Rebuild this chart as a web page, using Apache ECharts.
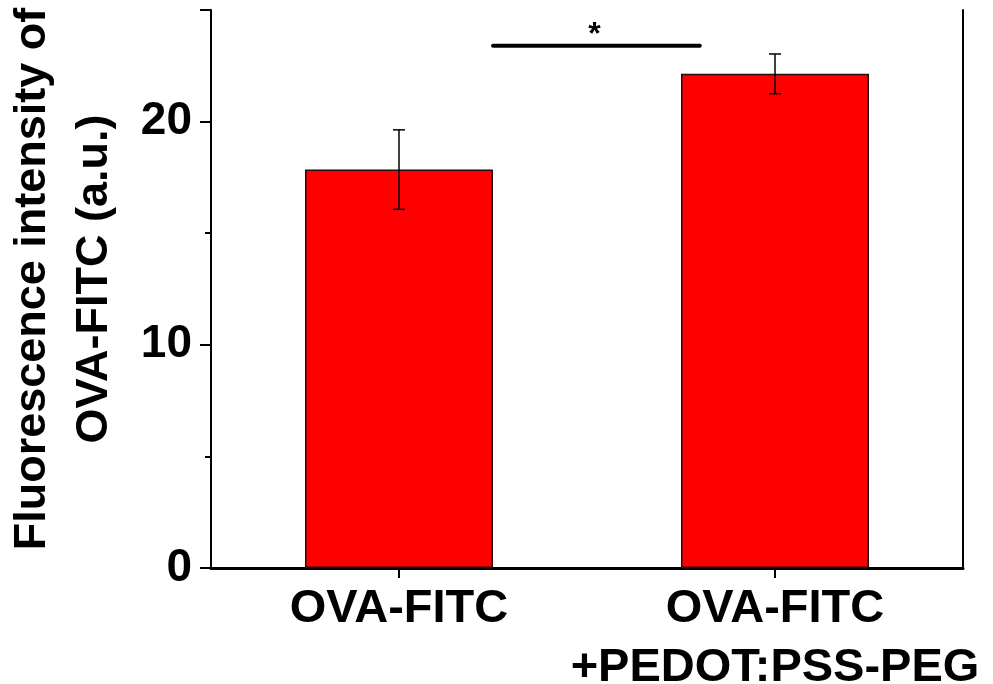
<!DOCTYPE html>
<html>
<head>
<meta charset="utf-8">
<script src="https://cdn.jsdelivr.net/npm/echarts@6/dist/echarts.min.js"></script>
<style>html,body{margin:0;padding:0;background:#fff}#c{width:993px;height:684px}</style>
</head>
<body>
<div id="c"></div>
<script>
var categories = ['OVA-FITC', 'OVA-FITC\n+PEDOT:PSS-PEG'];
var means = [17.85, 22.14];
var errors = [1.78, 0.89];
var yTicks = [0, 10, 20];
var sigLevel = 23.4;
var sigLabel = '*';
var yTitle = 'Fluorescence intensity of\nOVA-FITC (a.u.)';

var FONT = '"Liberation Sans", Arial, Helvetica, sans-serif';
var chart = echarts.init(document.getElementById('c'));
var errData = means.map(function (m, i) { return [i, m - errors[i], m + errors[i]]; });

chart.setOption({
  animation: false,
  grid: { left: 211, right: 30, top: 10, bottom: 116, containLabel: false, outerBoundsMode: 'none' },
  xAxis: [{
    type: 'category', data: categories, position: 'bottom',
    axisLine: { lineStyle: { color: '#000', width: 3 } },
    axisTick: { show: true, alignWithLabel: true, length: 10, lineStyle: { color: '#000', width: 2 } },
    axisLabel: { color: '#000', fontFamily: FONT, fontWeight: 'bold', fontSize: 47, lineHeight: 59, margin: 12, interval: 0 }
  }, {
    type: 'category', data: categories, position: 'top',
    axisLine: { lineStyle: { color: '#000', width: 2 } },
    axisTick: { show: true, alignWithLabel: true, inside: true, length: 2, lineStyle: { color: '#000', width: 1 } },
    axisLabel: { show: false }
  }],
  yAxis: [{
    type: 'value', min: 0, max: 25, interval: 10,
    axisLine: { show: true, lineStyle: { color: '#000', width: 2 } },
    axisTick: { show: true, length: 11, lineStyle: { color: '#000', width: 2 } },
    minorTick: { show: true, splitNumber: 2, length: 6, lineStyle: { color: '#000', width: 2 } },
    splitLine: { show: false },
    axisLabel: { color: '#000', fontFamily: FONT, fontWeight: 'bold', fontSize: 46, margin: 19,
      formatter: function (v) { return yTicks.indexOf(v) >= 0 ? String(v) : ''; } }
  }, {
    type: 'value', min: 0, max: 25, interval: 10, position: 'right',
    axisLine: { show: true, lineStyle: { color: '#000', width: 2 } },
    axisTick: { show: false }, axisLabel: { show: false }, splitLine: { show: false }
  }],
  graphic: [{
    type: 'text', rotation: Math.PI / 2, x: 64, y: 279,
    style: { text: yTitle, fill: '#000', font: 'bold 45px ' + FONT, textAlign: 'center', textVerticalAlign: 'middle', lineHeight: 62 }
  }],
  series: [{
    type: 'bar', data: means, barWidth: '50%',
    itemStyle: { color: '#FF0000', borderColor: '#2a0a0a', borderWidth: 1.5 },
    z: 2
  }, {
    type: 'custom', data: errData, z: 3,
    renderItem: function (params, api) {
      var x = api.value(0);
      var lo = api.coord([x, api.value(1)]);
      var hi = api.coord([x, api.value(2)]);
      var cw = 6;
      var st = { stroke: '#000', lineWidth: 1.5 };
      return { type: 'group', children: [
        { type: 'line', shape: { x1: lo[0], y1: lo[1], x2: hi[0], y2: hi[1] }, style: st },
        { type: 'line', shape: { x1: lo[0] - cw, y1: lo[1], x2: lo[0] + cw, y2: lo[1] }, style: st },
        { type: 'line', shape: { x1: hi[0] - cw, y1: hi[1], x2: hi[0] + cw, y2: hi[1] }, style: st }
      ] };
    }
  }, {
    type: 'custom', data: [[0, sigLevel]], z: 4,
    renderItem: function (params, api) {
      var p0 = api.coord([0, api.value(1)]);
      var p1 = api.coord([1, api.value(1)]);
      var bw = api.size([1, 0])[0];
      var x1 = p0[0] + bw * 0.25, x2 = p1[0] - bw * 0.2;
      return { type: 'group', children: [
        { type: 'line', shape: { x1: x1, y1: p0[1], x2: x2, y2: p0[1] }, style: { stroke: '#000', lineWidth: 4, lineCap: 'round' } },
        { type: 'text', x: (x1 + x2) / 2 - 2, y: p0[1] + 5, style: { text: sigLabel, fill: '#000', font: 'bold 32px ' + FONT, textAlign: 'center', textVerticalAlign: 'bottom' } }
      ] };
    }
  }]
});
</script>
</body>
</html>
